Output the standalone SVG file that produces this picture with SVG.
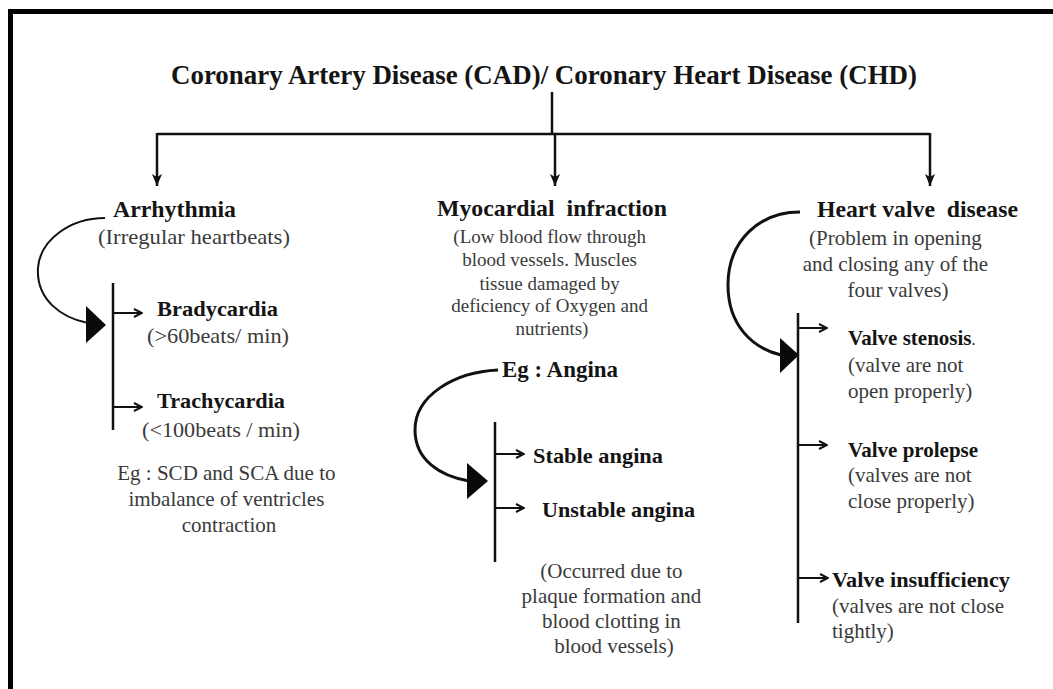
<svg xmlns="http://www.w3.org/2000/svg" width="1053" height="689" viewBox="0 0 1053 689">
<style>
.t{font-family:"Liberation Serif","Times New Roman",serif;}
.b{font-weight:bold;fill:#141414;}
.r{fill:#3a3a3a;}
.ln{stroke:#111;stroke-width:2.5;fill:none;}
.sm{stroke:#111;stroke-width:2;fill:none;}
.cv{stroke:#111;fill:none;}
.tri{fill:#0a0a0a;}
</style>
<defs>
<marker id="down" viewBox="0 0 12 10" refX="12" refY="5" markerWidth="12" markerHeight="10" markerUnits="userSpaceOnUse" orient="auto">
<path d="M0,0 L12,5 L0,10 L3,5 z" fill="#111"/>
</marker>
<marker id="chev" viewBox="0 0 10 10" refX="9" refY="5" markerWidth="10" markerHeight="10" markerUnits="userSpaceOnUse" orient="auto">
<path d="M1,1 L9,5 L1,9" fill="none" stroke="#111" stroke-width="2"/>
</marker>
</defs>
<rect x="0" y="0" width="1053" height="689" fill="#fff"/>
<rect x="10.5" y="11.5" width="1100" height="720" fill="none" stroke="#000" stroke-width="5"/>

<g id="connectors">
<line class="ln" x1="552" y1="92" x2="552" y2="134"/>
<line class="ln" x1="157" y1="134" x2="930" y2="134"/>
<line class="ln" x1="157" y1="133" x2="157" y2="186" marker-end="url(#down)"/>
<line class="ln" x1="555" y1="133" x2="555" y2="186" marker-end="url(#down)"/>
<line class="ln" x1="930" y1="133" x2="930" y2="186" marker-end="url(#down)"/>

<path class="cv" stroke-width="2" d="M105,218 C70,218 40,240 38,268 C36,300 62,318 88,323"/>
<polygon class="tri" points="86,306 106,325 86,343"/>
<line class="ln" x1="113" y1="283" x2="113" y2="430"/>
<line class="sm" x1="113" y1="313" x2="142" y2="313" marker-end="url(#chev)"/>
<line class="sm" x1="113" y1="407" x2="142" y2="407" marker-end="url(#chev)"/>

<path class="cv" stroke-width="3" d="M498,370 C455,372 415,395 415,430 C415,460 440,476 469,481"/>
<polygon class="tri" points="467,463 488,481 467,499"/>
<line class="ln" x1="495" y1="422" x2="495" y2="562"/>
<line class="sm" x1="495" y1="454" x2="524" y2="454" marker-end="url(#chev)"/>
<line class="sm" x1="495" y1="508" x2="524" y2="508" marker-end="url(#chev)"/>

<path class="cv" stroke-width="3" d="M800,212 C760,212 728,240 728,285 C728,325 752,348 781,355"/>
<polygon class="tri" points="780,338 799,355 780,373"/>
<line class="ln" x1="798" y1="313" x2="798" y2="623"/>
<line class="sm" x1="798" y1="328" x2="827" y2="328" marker-end="url(#chev)"/>
<line class="sm" x1="798" y1="445" x2="827" y2="445" marker-end="url(#chev)"/>
<line class="sm" x1="798" y1="578" x2="828" y2="578" marker-end="url(#chev)"/>
</g>

<g id="title">
<text class="t b" x="171" y="84" font-size="27" textLength="746" lengthAdjust="spacingAndGlyphs">Coronary Artery Disease (CAD)/ Coronary Heart Disease (CHD)</text>
</g>

<g id="arrhythmia">
<text class="t b" x="113" y="217" font-size="24" textLength="123" lengthAdjust="spacingAndGlyphs">Arrhythmia</text>
<text class="t r" x="98" y="244" font-size="22" textLength="192" lengthAdjust="spacingAndGlyphs">(Irregular heartbeats)</text>
</g>

<g id="bradycardia">
<text class="t b" x="157" y="316" font-size="21" textLength="121" lengthAdjust="spacingAndGlyphs">Bradycardia</text>
<text class="t r" x="147" y="343" font-size="21" textLength="142" lengthAdjust="spacingAndGlyphs">(&gt;60beats/ min)</text>
</g>

<g id="trachycardia">
<text class="t b" x="157" y="408" font-size="21" textLength="128" lengthAdjust="spacingAndGlyphs">Trachycardia</text>
<text class="t r" x="142" y="437" font-size="21" textLength="158" lengthAdjust="spacingAndGlyphs">(&lt;100beats / min)</text>
</g>

<g id="arrhythmia-eg">
<text class="t r" font-size="21" text-anchor="middle">
<tspan x="229" y="480">Eg : SCD and SCA due to</tspan>
<tspan x="229" y="506">imbalance of ventricles</tspan>
<tspan x="229" y="532">contraction</tspan>
</text>
</g>

<g id="myocardial">
<text class="t b" x="437" y="216" font-size="24" textLength="230" lengthAdjust="spacingAndGlyphs" xml:space="preserve">Myocardial  infraction</text>
<text class="t r" font-size="19" text-anchor="middle">
<tspan x="552" y="243">(Low blood flow through</tspan>
<tspan x="552" y="266">blood vessels. Muscles</tspan>
<tspan x="552" y="290">tissue damaged by</tspan>
<tspan x="552" y="312">deficiency of Oxygen and</tspan>
<tspan x="552" y="335">nutrients)</tspan>
</text>
</g>

<g id="angina">
<text class="t b" x="502" y="377" font-size="24" textLength="116" lengthAdjust="spacingAndGlyphs">Eg : Angina</text>
</g>

<g id="stable-angina">
<text class="t b" x="533" y="463" font-size="22" textLength="130" lengthAdjust="spacingAndGlyphs">Stable angina</text>
</g>

<g id="unstable-angina">
<text class="t b" x="542" y="517" font-size="22" textLength="153" lengthAdjust="spacingAndGlyphs">Unstable angina</text>
<text class="t r" font-size="21" text-anchor="middle">
<tspan x="614" y="578">(Occurred due to</tspan>
<tspan x="614" y="603">plaque formation and</tspan>
<tspan x="614" y="628">blood clotting in</tspan>
<tspan x="614" y="653">blood vessels)</tspan>
</text>
</g>

<g id="heart-valve">
<text class="t b" x="817" y="217" font-size="24" textLength="201" lengthAdjust="spacingAndGlyphs" xml:space="preserve">Heart valve  disease</text>
<text class="t r" font-size="21" text-anchor="middle">
<tspan x="898" y="245">(Problem in opening</tspan>
<tspan x="898" y="271">and closing any of the</tspan>
<tspan x="898" y="297">four valves)</tspan>
</text>
</g>

<g id="valve-stenosis">
<text class="t b" x="848" y="345" font-size="21">Valve stenosis<tspan font-weight="normal" font-size="16">.</tspan></text>
<text class="t r" font-size="21">
<tspan x="848" y="372">(valve are not</tspan>
<tspan x="848" y="398">open properly)</tspan>
</text>
</g>

<g id="valve-prolepse">
<text class="t b" x="848" y="457" font-size="21">Valve prolepse</text>
<text class="t r" font-size="21">
<tspan x="848" y="482">(valves are not</tspan>
<tspan x="848" y="508">close properly)</tspan>
</text>
</g>

<g id="valve-insufficiency">
<text class="t b" x="832" y="587" font-size="21" textLength="178" lengthAdjust="spacingAndGlyphs">Valve insufficiency</text>
<text class="t r" font-size="21">
<tspan x="832" y="613">(valves are not close</tspan>
<tspan x="832" y="638">tightly)</tspan>
</text>
</g>
</svg>
